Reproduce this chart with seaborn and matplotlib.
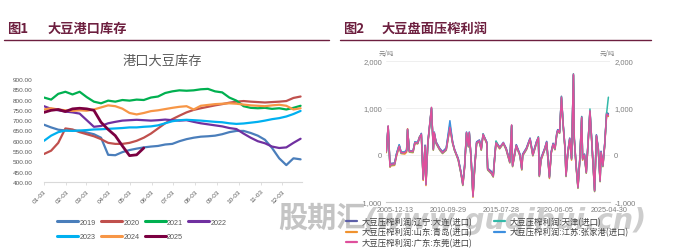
import numpy as np
import pandas as pd
import matplotlib
matplotlib.use("Agg")
import matplotlib.pyplot as plt
from matplotlib.lines import Line2D
import seaborn as sns

# ---------------- data: 图1 港口大豆库存 (万吨) ----------------
years = ["2019", "2020", "2021", "2022", "2023", "2024", "2025"]
year_colors = ["#4a7ebb", "#c0504d", "#00b050", "#7030a0", "#00b0f0", "#f79646", "#7b0041"]
day_of_year = list(range(3, 364, 10))
v2019 = [678, 665, 654, 650, 650, 648, 640, 632, 615, 532, 530, 545, 555, 562, 568, 572, 575, 582, 585,
         598, 608, 615, 620, 622, 625, 632, 642, 648, 648, 638, 625, 605, 565, 515, 482, 515, 510]
v2020 = [536, 552, 590, 660, 655, 642, 632, 622, 608, 590, 585, 585, 590, 600, 615, 635, 660, 685, 705,
         722, 738, 750, 758, 765, 772, 778, 785, 790, 793, 790, 788, 786, 788, 790, 793, 808, 815]
v2021 = [810, 800, 828, 838, 825, 838, 812, 790, 782, 795, 790, 798, 795, 800, 798, 810, 815, 832, 840,
         845, 843, 845, 850, 852, 840, 835, 810, 795, 768, 760, 758, 760, 755, 758, 752, 760, 770]
v2022 = [768, 755, 748, 742, 738, 732, 700, 668, 672, 685, 692, 698, 700, 702, 700, 698, 700, 703, 700,
         698, 700, 692, 685, 680, 675, 670, 662, 657, 635, 615, 598, 588, 572, 565, 568, 590, 610]
v2023 = [600, 625, 642, 650, 648, 650, 652, 655, 656, 658, 660, 662, 665, 665, 668, 670, 675, 685, 695,
         700, 702, 700, 698, 695, 692, 690, 685, 682, 684, 688, 692, 698, 705, 710, 718, 730, 745]
v2024 = [752, 758, 752, 748, 745, 748, 746, 752, 762, 772, 768, 756, 735, 728, 735, 744, 748, 754, 760,
         765, 768, 752, 770, 774, 778, 780, 782, 780, 776, 772, 770, 768, 772, 775, 770, 752, 758]
v2025 = [738, 748, 752, 742, 755, 758, 755, 748, 690, 655, 625, 575, 528, 532, 565]
stock = dict(zip(years, [v2019, v2020, v2021, v2022, v2023, v2024, v2025]))

# ---------------- data: 图2 大豆盘面压榨利润 (元/吨) ----------------
months2 = ["2005-03", "2005-05", "2005-07", "2005-08", "2005-12",
           "2006-02", "2006-05", "2006-07", "2006-11",
           "2007-01", "2007-02", "2007-04", "2007-08", "2007-10",
           "2008-01", "2008-03", "2008-05", "2008-07", "2008-09", "2008-10", "2008-12",
           "2009-04", "2009-06", "2009-07", "2009-09",
           "2010-01", "2010-04", "2010-08", "2010-12",
           "2011-03", "2011-05", "2011-09", "2011-12",
           "2012-02", "2012-04", "2012-06", "2012-08", "2012-09", "2012-11",
           "2013-01", "2013-03", "2013-05", "2013-08", "2013-10", "2013-12",
           "2014-04", "2014-05", "2014-09", "2014-11",
           "2015-01", "2015-02", "2015-06", "2015-10",
           "2016-01", "2016-05", "2016-07", "2016-08", "2016-12",
           "2017-04", "2017-06", "2017-07", "2017-11",
           "2018-03", "2018-06", "2018-10", "2018-12",
           "2019-01", "2019-03", "2019-07", "2019-09", "2019-12",
           "2020-02", "2020-04", "2020-06", "2020-08", "2020-09", "2020-11",
           "2021-01", "2021-03", "2021-05", "2021-06", "2021-08", "2021-10", "2021-12",
           "2022-02", "2022-03", "2022-05", "2022-07", "2022-09", "2022-11", "2022-12",
           "2023-02", "2023-04", "2023-06", "2023-08", "2023-10", "2023-11",
           "2024-01", "2024-03", "2024-05", "2024-07", "2024-08", "2024-10", "2024-12",
           "2025-02", "2025-04"]
dalian = [60, 600, -250, -180, -170,
          20, 210, 70, 40,
          100, 530, 100, 60, 280,
          240, 360, 460, -500, 210, -600, 240,
          980, 140, 460, 280,
          140, 70, 150, 640,
          280, 100, -70, -360,
          -600, -210, 470, 210, 460, -70,
          -850, -210, 280, 320, 140, 420,
          280, -280, -350, -420,
          70, 280, 170, 240,
          150, -130, 620, -210, 220,
          20, -280, 20, 150,
          360, 20, 290, 360,
          -420, -60, 150, 290, -450,
          80, 250, 150, 470, 540, 500,
          1250, 640, 150, -420, 80, 360, -60,
          1700, 360, -210, -670, -60, 820, -60,
          20, -350, 290, 920, 290, -60,
          -740, 430, 150, -530, 80, -210, 250,
          900, 880]
tianjin = [70, 610, -240, -210, -200,
           10, 200, 40, 60,
           90, 545, 70, 70, 270,
           250, 375, 430, -510, 180, -620, 250,
           1005, 110, 470, 250,
           110, 40, 110, 600,
           250, 110, -100, -390,
           -640, -240, 470, 180, 470, -100,
           -870, -240, 250, 290, 110, 450,
           250, -310, -390, -460,
           40, 300, 140, 250,
           120, -160, 630, -240, 190,
           -10, -310, -10, 120,
           330, -10, 260, 390,
           -450, -90, 120, 260, -480,
           50, 220, 120, 440, 510, 470,
           1240, 610, 120, -450, 50, 330, -90,
           1730, 330, -240, -700, -90, 810, -90,
           -10, -380, 260, 980, 260, -90,
           -770, 400, 120, -560, 50, -240, 220,
           890, 1230]
qingdao = [50, 590, -260, -230, -220,
           -30, 170, 30, 20,
           60, 560, 60, 50, 240,
           240, 390, 420, -540, 170, -650, 230,
           990, 100, 460, 240,
           100, 30, 100, 570,
           240, 100, -110, -400,
           -650, -260, 460, 170, 460, -110,
           -900, -260, 240, 280, 100, 420,
           240, -320, -400, -470,
           30, 240, 130, 240,
           110, -170, 620, -250, 180,
           -20, -320, -20, 110,
           320, -20, 250, 350,
           -460, -110, 110, 250, -500,
           40, 210, 110, 430, 500, 460,
           1200, 600, 110, -460, 40, 320, -110,
           1690, 320, -250, -710, -110, 780, -110,
           -20, -390, 250, 920, 250, -110,
           -780, 390, 110, -570, 40, -250, 210,
           850, 820]
zhangjiagang = [90, 610, -220, -190, -180,
                30, 220, 60, 70,
                110, 540, 90, 90, 270,
                280, 380, 450, -510, 200, -620, 270,
                1000, 130, 490, 270,
                130, 60, 140, 730,
                270, 130, -80, -370,
                -620, -220, 490, 200, 490, -80,
                -870, -220, 270, 310, 130, 450,
                270, -290, -370, -440,
                60, 270, 160, 270,
                140, -140, 630, -220, 210,
                10, -290, 10, 140,
                350, 10, 280, 380,
                -430, -70, 140, 280, -460,
                70, 240, 140, 460, 530, 490,
                1220, 630, 140, -430, 70, 350, -70,
                1710, 350, -220, -680, -70, 790, -70,
                10, -360, 280, 930, 280, -70,
                -750, 420, 140, -540, 70, -220, 240,
                880, 860]
dongguan = [80, 620, -235, -200, -190,
            0, 190, 50, 50,
            85, 550, 80, 80, 260,
            260, 370, 440, -520, 190, -630, 260,
            1015, 120, 480, 260,
            120, 50, 120, 590,
            260, 120, -90, -380,
            -630, -235, 480, 190, 480, -90,
            -880, -235, 260, 300, 120, 440,
            260, -300, -380, -450,
            50, 260, 150, 260,
            130, -150, 640, -230, 200,
            0, -300, 0, 130,
            340, 0, 270, 375,
            -440, -85, 130, 270, -475,
            60, 230, 130, 450, 520, 480,
            1230, 620, 130, -440, 60, 340, -85,
            1720, 340, -230, -690, -85, 800, -85,
            0, -370, 270, 940, 270, -85,
            -760, 410, 130, -550, 60, -230, 230,
            870, 840]
regions = ["大豆压榨利润:辽宁:大连(进口)", "大豆压榨利润:天津(进口)", "大豆压榨利润:山东:青岛(进口)",
           "大豆压榨利润:江苏:张家港(进口)", "大豆压榨利润:广东:东莞(进口)"]
region_colors = ["#5b5ea8", "#33b9a9", "#f0922e", "#3d8fdf", "#df4f9c"]
profit = dict(zip(regions, [dalian, tianjin, qingdao, zhangjiagang, dongguan]))
date_ticks = ["2005-12-13", "2010-09-29", "2015-07-28", "2020-06-05", "2025-04-30"]

# ---------------- styling ----------------
sns.set_theme(style="white")
plt.rcParams["font.family"] = ["Liberation Sans", "Noto Sans CJK SC", "DejaVu Sans"]
CJK = ["Noto Sans CJK SC", "DejaVu Sans"]
W, H = 675, 253
TITLE_C = "#6d1f3f"
fig = plt.figure(figsize=(W / 100, H / 100), dpi=100)

def fx(px):
    return px / W

def fy(py):
    return 1 - py / H

# titles
for x0, tag, txt, x1, lx0, lx1 in [(7, "图1", "大豆港口库存", 47, 4, 329),
                                   (343, "图2", "大豆盘面压榨利润", 382, 340, 651)]:
    fig.text(fx(x0), fy(29), tag, fontsize=9.5, fontweight="bold", color=TITLE_C, va="center", family=CJK)
    fig.text(fx(x1), fy(29), txt, fontsize=9.5, fontweight="bold", color=TITLE_C, va="center", family=CJK)
    fig.add_artist(Line2D([fx(lx0), fx(lx1)], [fy(41), fy(41)], color=TITLE_C, lw=1.0))

# watermark
fig.text(fx(278), fy(227), "股期汇", fontsize=21, fontweight="bold", color="#c4c4c4",
         va="baseline", family=CJK, zorder=0)
fig.text(fx(364), fy(229), "(www.guqihui.cn)", fontsize=20.5, fontweight="bold", style="italic",
         color="#cdcdcd", va="baseline", family=["DejaVu Sans"], zorder=0)

# ---------------- left chart ----------------
ax1 = fig.add_axes([fx(44), fy(183), fx(258), 103 / H])
rows = []
for y in years:
    vals = stock[y]
    for d, v in zip(day_of_year[:len(vals)], vals):
        rows.append({"year": y, "date": pd.Timestamp("2001-01-01") + pd.Timedelta(days=d - 1), "value": v})
df1 = pd.DataFrame(rows)
sns.lineplot(data=df1, x="date", y="value", hue="year", hue_order=years,
             palette=dict(zip(years, year_colors)), linewidth=1.6, estimator=None,
             legend=False, ax=ax1)
ax1.lines[-1].set_linewidth(2.0)
ax1.set_xlim(pd.Timestamp("2001-01-03"), pd.Timestamp("2001-12-31"))
ax1.set_ylim(400, 900)
yt = list(range(400, 901, 50))
ax1.set_yticks(yt)
ax1.set_yticklabels([f"{v:.2f}" for v in yt])
mt = [pd.Timestamp(2001, m, 3) for m in range(1, 13)]
ax1.set_xticks(mt)
ax1.set_xticklabels([t.strftime("%m-%d") for t in mt], rotation=45, ha="right",
                    rotation_mode="anchor")
ax1.set_xlabel("")
ax1.set_ylabel("")
for s in ["top", "right", "left"]:
    ax1.spines[s].set_visible(False)
ax1.spines["bottom"].set_color("#d9d9d9")
ax1.spines["bottom"].set_linewidth(0.8)
ax1.tick_params(axis="x", length=2.5, width=0.6, color="#d9d9d9", labelsize=4.6,
                labelcolor="#595959", pad=2, bottom=True)
ax1.tick_params(axis="y", length=0, labelsize=4.6, labelcolor="#595959", pad=8)
fig.text(fx(162), fy(61), "港口大豆库存", ha="center", va="center", fontsize=9.5,
         color="#595959", family=CJK)

order1 = ["2019", "2023", "2020", "2024", "2021", "2025", "2022"]
h1 = [Line2D([], [], color=dict(zip(years, year_colors))[y], lw=2.2) for y in order1]
fig.legend(h1, order1, ncol=4, loc="center", bbox_to_anchor=(fx(142), fy(230.5)), frameon=False,
           fontsize=5.2, handlelength=2.9, handletextpad=0.2, columnspacing=0.7,
           labelspacing=1.0, labelcolor="#595959", borderpad=0, borderaxespad=0)

# ---------------- right chart ----------------
ax2 = fig.add_axes([fx(386), fy(203), fx(224), 141 / H])
rows = []
for r in regions:
    for m, v in zip(months2, profit[r]):
        rows.append({"region": r, "date": pd.Timestamp(m + "-01"), "value": v})
df2 = pd.DataFrame(rows)
draw_order = [regions[0], regions[2], regions[3], regions[1], regions[4]]
sns.lineplot(data=df2, x="date", y="value", hue="region", hue_order=draw_order,
             palette=dict(zip(regions, region_colors)), linewidth=1.1, estimator=None,
             legend=False, ax=ax2)
ax2.set_xlim(pd.Timestamp("2005-02-19"), pd.Timestamp("2025-05-24"))
ax2.set_ylim(-1000, 2000)
yt2 = [-1000, 0, 1000, 2000]
ax2.set_yticks(yt2)
ax2.set_yticklabels([f"{v:,}" for v in yt2])
ax2.set_xticks([pd.Timestamp(d) for d in date_ticks])
ax2.set_xticklabels(date_ticks)
ax2.set_xlabel("")
ax2.set_ylabel("")
ax2.grid(axis="y", color="#ececec", lw=0.6)
ax2.grid(axis="x", visible=False)
ax2.set_axisbelow(True)
for s in ["top", "right", "left"]:
    ax2.spines[s].set_visible(False)
ax2.spines["bottom"].set_color("#c8c8c8")
ax2.spines["bottom"].set_linewidth(0.8)
ax2.tick_params(axis="y", length=0, labelsize=5.5, labelcolor="#7f7f7f", pad=3,
                labelleft=True, labelright=True)
ax2.tick_params(axis="x", length=0, labelsize=5.2, labelcolor="#7f7f7f", pad=3)
fig.text(fx(386), fy(54), "元/吨", ha="center", va="center", fontsize=4.6, color="#7f7f7f", family=CJK)
fig.text(fx(607), fy(54), "元/吨", ha="center", va="center", fontsize=4.6, color="#7f7f7f", family=CJK)

order2 = [regions[0], regions[2], regions[4], regions[1], regions[3]]
cmap2 = dict(zip(regions, region_colors))
h2 = [Line2D([], [], color=cmap2[r], lw=1.6) for r in order2]
fig.legend(h2, order2, ncol=2, loc="upper left", bbox_to_anchor=(fx(346), fy(218)),
           frameon=False, handlelength=1.3, handletextpad=0.6,
           columnspacing=2.6, labelspacing=0.15, labelcolor="#404040",
           borderpad=0, borderaxespad=0, prop={"family": CJK, "size": 6})

fig.savefig("out.png", dpi=100)
